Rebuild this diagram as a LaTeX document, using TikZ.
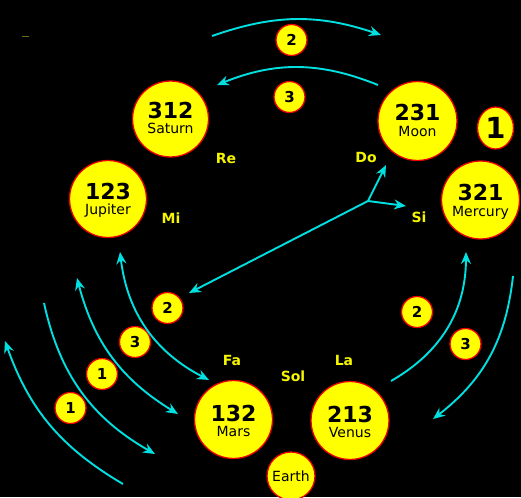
\documentclass[tikz,border=0pt]{standalone}
\usepackage{fontspec}
\setmainfont{DejaVu Sans}
\usetikzlibrary{arrows.meta,shapes.geometric}
\definecolor{arrowc}{RGB}{0,224,224}
\definecolor{fillc}{RGB}{255,255,0}
\definecolor{edgec}{RGB}{235,0,0}
\definecolor{notec}{RGB}{245,245,0}
\definecolor{markc}{RGB}{110,110,20}
\begin{document}
\begin{tikzpicture}[x=1pt,y=1pt,
  planet/.style={circle, draw=edgec, fill=fillc, line width=1.3pt, minimum size=#1, inner sep=0pt},
  num/.style={anchor=base, font=\fontsize{22}{22}\selectfont\bfseries, inner sep=0pt},
  pname/.style={anchor=base, font=\fontsize{14}{14}\selectfont, inner sep=0pt},
  badge/.style={circle, draw=edgec, fill=fillc, line width=1.3pt, minimum size=31pt, inner sep=0pt, font=\fontsize{15}{15}\selectfont\bfseries},
  note/.style={text=notec, font=\fontsize{14}{14}\selectfont\bfseries, inner sep=0pt},
  flow/.style={draw=arrowc, line width=1.9pt, -{Stealth[length=12pt,width=10pt,inset=4pt]}},
  flowtwo/.style={draw=arrowc, line width=1.9pt, {Stealth[length=12pt,width=10pt,inset=4pt]}-{Stealth[length=12pt,width=10pt,inset=4pt]}}
]
\fill[black] (0,0) rectangle (521,-497);
\useasboundingbox (0,0) rectangle (521,-497);

% stray mark
\coordinate (m1) at (22,-36);
\coordinate (m2) at (29,-36);
\draw[markc, line width=0.8pt] (m1) -- (m2);

% planets
\node[planet=76pt] (sat) at (170.5,-119) {};
\node[num] (satn) at ([yshift=0.5pt]sat.center) {312};
\node[pname] (satl) at ([yshift=-15pt]sat.center) {Saturn};

\node[planet=77pt] (jup) at (108,-199) {};
\node[num] (jupn) at ([yshift=0pt]jup.center) {123};
\node[pname] (jupl) at ([yshift=-15pt]jup.center) {Jupiter};

\node[planet=79pt] (moon) at (417.5,-121) {};
\node[num] (moonn) at ([yshift=0pt]moon.center) {231};
\node[pname] (moonl) at ([yshift=-16pt]moon.center) {Moon};

\node[planet=78pt] (merc) at (480.5,-200) {};
\node[num] (mercn) at ([yshift=0pt]merc.center) {321};
\node[pname] (mercl) at ([yshift=-16pt]merc.center) {Mercury};

\node[planet=78pt] (mars) at (233.5,-419.5) {};
\node[num] (marsn) at ([yshift=-1.5pt]mars.center) {132};
\node[pname] (marsl) at ([yshift=-16.5pt]mars.center) {Mars};

\node[planet=78pt] (venus) at (350,-420.5) {};
\node[num] (venusn) at ([yshift=-1.5pt]venus.center) {213};
\node[pname] (venusl) at ([yshift=-17pt]venus.center) {Venus};

\node[planet=48pt, font=\fontsize{14}{14}\selectfont] (earth) at (291,-476) {Earth};

\node[ellipse, draw=edgec, fill=fillc, line width=1.3pt, minimum width=36pt, minimum height=42pt, inner sep=0pt, font=\fontsize{29}{29}\selectfont\bfseries] (one) at (495.5,-128) {1};

% badges
\node[badge] (btwotop) at (291.5,-40) {2};
\node[badge] (bthreetop) at (289.5,-97) {3};
\node[badge] (btwoleft) at (167.5,-308) {2};
\node[badge] (bthreeleft) at (135,-342) {3};
\node[badge] (bonea) at (102,-374) {1};
\node[badge] (boneb) at (70.5,-408) {1};
\node[badge] (btworight) at (417,-312) {2};
\node[badge] (bthreeright) at (465.5,-344) {3};

% note labels
\node[note] (re) at (226,-158) {Re};
\node[note] (mi) at (171,-218) {Mi};
\node[note] (do) at (366,-157) {Do};
\node[note] (si) at (419,-217) {Si};
\node[note] (fa) at (232,-360) {Fa};
\node[note] (sol) at (293,-376) {Sol};
\node[note] (la) at (344,-360) {La};

% arrow end points
\coordinate (hub) at (368,-201);
\coordinate (tipl) at (189,-293);
\coordinate (tipdo) at (386,-165);
\coordinate (tipsi) at (406,-206);

\coordinate (tas) at (212,-36);
\coordinate (tae) at (381,-35);
\coordinate (tbs) at (378,-85);
\coordinate (tbe) at (217,-85);

\coordinate (la1) at (120,-252);
\coordinate (la2) at (209,-380);
\coordinate (lb1) at (77,-278);
\coordinate (lb2) at (178,-414);
\coordinate (lc1) at (44,-303);
\coordinate (lc2) at (155,-454);
\coordinate (ld1) at (123,-484);
\coordinate (ld2) at (5,-341);

\coordinate (re1) at (391,-381);
\coordinate (re2) at (466,-252);
\coordinate (rf1) at (513,-276);
\coordinate (rf2) at (433,-419);

% arrows
\draw[flow] (hub) -- (tipl);
\draw[flow] (hub) -- (tipdo);
\draw[flow] (hub) -- (tipsi);

\draw[flow] (tas) to[bend left=19] (tae);
\draw[flow] (tbs) to[bend right=22] (tbe);

\draw[flowtwo] (la1) to[bend right=28] (la2);
\draw[flowtwo] (lb1) to[bend right=22] (lb2);
\draw[flow] (lc1) to[bend right=24] (lc2);
\draw[flow] (ld1) to[bend left=20] (ld2);

\draw[flow] (re1) to[bend right=30] (re2);
\draw[flow] (rf1) to[bend left=23] (rf2);
\end{tikzpicture}
\end{document}
